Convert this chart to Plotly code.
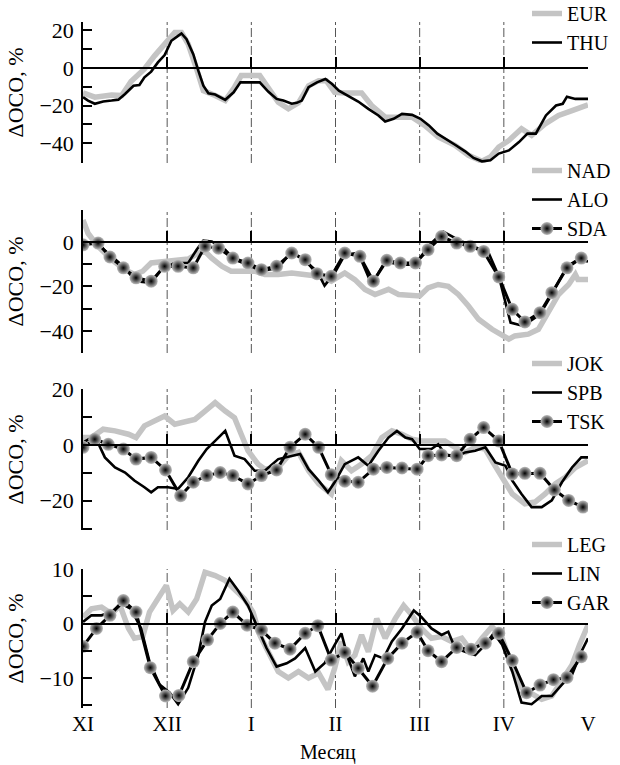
import plotly.graph_objects as go

# ---------------- data (x in months from 1 Nov; y in %) ----------------
MONTHS = ["XI", "XII", "I", "II", "III", "IV", "V"]
MONTH_POS = [0, 1, 2, 3, 4, 5, 6]

eur_x = [0, 0.14, 0.34, 0.46, 0.57, 0.73, 0.85, 0.97, 1.09, 1.17, 1.25, 1.35, 1.43, 1.57, 1.69, 1.80, 1.88, 2.10, 2.22, 2.32,
         2.44, 2.56, 2.68, 2.80, 2.89, 2.99, 3.11, 3.31, 3.43, 3.59, 3.75, 3.91, 4.06, 4.22, 4.42, 4.58, 4.74, 4.84, 4.94, 5.06,
         5.21, 5.33, 5.49, 5.65, 5.81, 6.00]
eur_y = [-13.2, -15.5, -14.3, -14.6, -7.2, -0.5, 6.5, 12.7, 18.9, 18.9, 12.7, -0.5, -12.0, -14.6, -17.3, -10.2, -4.0, -4.0, -12.0, -18.2,
         -21.7, -18.5, -9.4, -6.7, -6.7, -12.9, -13.2, -13.2, -19.9, -26.1, -26.1, -26.1, -30.5, -36.7, -41.1, -46.4, -49.6, -47.3, -42.0, -38.5,
         -32.3, -35.8, -29.7, -25.2, -22.6, -19.6]

thu_x = [0, 0.06, 0.14, 0.24, 0.34, 0.42, 0.50, 0.60, 0.67, 0.73, 0.81, 0.89, 0.97, 1.05, 1.13, 1.17, 1.23, 1.31, 1.37, 1.43,
         1.49, 1.57, 1.69, 1.79, 1.87, 2.00, 2.10, 2.20, 2.30, 2.38, 2.48, 2.54, 2.60, 2.68, 2.78, 2.88, 2.96, 3.04, 3.15, 3.27,
         3.39, 3.51, 3.59, 3.69, 3.79, 3.91, 4.01, 4.11, 4.21, 4.31, 4.42, 4.54, 4.64, 4.74, 4.84, 4.94, 5.06, 5.18, 5.28, 5.38,
         5.50, 5.62, 5.70, 5.75, 5.85, 6.00]
thu_y = [-15.5, -17.3, -19.0, -17.8, -17.3, -16.8, -13.8, -9.4, -9.0, -4.9, -1.9, 3.0, 6.9, 14.5, 17.1, 18.4, 15.4, 7.4, -1.4, -9.4,
         -13.4, -14.1, -16.9, -12.9, -7.6, -7.6, -7.6, -12.5, -16.4, -17.3, -19.0, -18.5, -17.3, -10.2, -7.6, -5.8, -8.5, -12.0, -14.6, -17.8,
         -21.7, -25.2, -28.4, -27.0, -24.4, -24.9, -27.0, -30.5, -34.9, -37.9, -40.8, -44.3, -47.8, -49.6, -49.0, -45.5, -43.8, -39.4, -34.9, -34.9,
         -25.2, -19.9, -19.0, -15.2, -16.4, -16.4]

nad_x = [0, 0.06, 0.18, 0.34, 0.50, 0.61, 0.71, 0.81, 0.97, 1.13, 1.25, 1.37, 1.45, 1.53, 1.65, 1.76, 1.92, 2.04, 2.16, 2.32,
         2.48, 2.64, 2.80, 2.95, 3.11, 3.23, 3.35, 3.47, 3.63, 3.75, 3.91, 4.00, 4.10, 4.22, 4.34, 4.46, 4.58, 4.70, 4.86, 4.98,
         5.06, 5.13, 5.29, 5.41, 5.53, 5.65, 5.77, 5.85, 5.88, 6.00]
nad_y = [10.0, 4.0, -1.9, -7.9, -12.4, -14.6, -13.1, -9.4, -8.7, -7.9, -7.6, -4.9, -4.2, -7.2, -10.9, -13.1, -13.1, -13.1, -14.6, -14.6,
         -13.9, -14.6, -15.4, -17.6, -13.9, -16.9, -21.3, -23.6, -21.3, -23.6, -24.3, -24.3, -20.6, -19.1, -19.9, -23.6, -28.8, -34.8, -39.3, -42.3,
         -43.7, -42.3, -41.5, -39.3, -31.8, -23.6, -19.1, -14.6, -16.9, -16.9]

alo_x = [0, 0.18, 0.32, 0.48, 0.63, 0.81, 0.93, 1.09, 1.25, 1.35, 1.43, 1.53, 1.69, 1.80, 1.96, 2.12, 2.32, 2.48, 2.64, 2.78,
         2.87, 2.99, 3.11, 3.27, 3.43, 3.59, 3.77, 3.95, 4.10, 4.28, 4.46, 4.60, 4.82, 4.94, 5.08, 5.23, 5.43, 5.57, 5.75, 5.88, 6.00]
alo_y = [0.3, -1.2, -5.7, -10.9, -17.6, -18.4, -12.4, -9.4, -9.4, -3.4, 0.7, 0.3, -3.4, -7.9, -10.2, -13.1, -11.6, -4.2, -8.7, -13.1,
         -19.6, -13.9, -5.7, -4.9, -19.1, -8.7, -10.2, -10.2, -1.9, 4.8, 1.0, -1.2, -4.9, -15.4, -36.3, -37.8, -32.6, -23.6, -10.9, -7.9, -8.7]

sda_x = [0, 0.18, 0.32, 0.48, 0.63, 0.81, 0.97, 1.13, 1.31, 1.45, 1.61, 1.78, 1.96, 2.12, 2.30, 2.48, 2.64, 2.78, 2.95, 3.11,
         3.29, 3.45, 3.61, 3.77, 3.95, 4.10, 4.26, 4.44, 4.60, 4.76, 4.94, 5.10, 5.25, 5.43, 5.57, 5.75, 5.92]
sda_y = [-1.2, -0.4, -6.7, -11.6, -16.1, -17.6, -10.9, -10.9, -11.6, -1.9, -2.7, -7.2, -9.4, -12.4, -10.9, -4.9, -7.9, -14.2, -15.4, -4.9,
         -6.4, -17.6, -8.2, -9.4, -9.4, -3.4, 2.5, -0.4, -1.9, -4.2, -15.7, -30.3, -36.0, -31.8, -22.8, -11.6, -7.2]

jok_x = [0, 0.10, 0.24, 0.38, 0.54, 0.63, 0.73, 0.85, 0.97, 1.09, 1.21, 1.33, 1.45, 1.57, 1.69, 1.80, 1.88, 1.96, 2.08, 2.16,
         2.32, 2.44, 2.56, 2.68, 2.80, 2.95, 3.07, 3.19, 3.31, 3.43, 3.55, 3.67, 3.79, 3.91, 4.02, 4.14, 4.30, 4.42, 4.54, 4.66,
         4.78, 4.86, 4.98, 5.10, 5.25, 5.37, 5.49, 5.61, 5.73, 5.85, 6.00]
jok_y = [2.6, 2.6, 5.6, 5.0, 3.8, 2.6, 6.8, 8.5, 10.3, 7.4, 8.0, 9.1, 12.1, 15.1, 12.1, 9.7, 3.8, -2.1, -6.9, -8.7,
         -8.1, -3.9, -2.7, -9.3, -14.0, -17.6, -5.7, -9.3, -6.9, -3.9, 2.6, 5.0, 3.8, 2.0, 1.4, 1.4, 1.4, -0.9, -2.7, -0.9,
         -1.5, -5.7, -11.6, -17.6, -21.1, -20.5, -17.6, -14.0, -11.6, -8.1, -5.7]

spb_x = [0, 0.14, 0.26, 0.38, 0.50, 0.61, 0.73, 0.81, 0.89, 1.01, 1.13, 1.25, 1.37, 1.47, 1.57, 1.69, 1.80, 1.92, 2.04, 2.16,
         2.32, 2.48, 2.58, 2.68, 2.80, 2.91, 2.99, 3.11, 3.27, 3.39, 3.51, 3.63, 3.73, 3.83, 3.91, 4.00, 4.14, 4.22, 4.30, 4.42,
         4.54, 4.66, 4.78, 4.90, 5.02, 5.10, 5.21, 5.33, 5.45, 5.57, 5.69, 5.81, 5.92, 6.00]
spb_y = [0.8, 3.2, -4.5, -8.1, -9.9, -12.8, -15.2, -17.0, -15.2, -15.2, -15.8, -11.6, -5.7, -1.5, 1.4, 5.0, -3.9, -5.1, -9.3, -9.3,
         -5.1, -3.9, -3.3, -8.7, -12.8, -17.0, -13.4, -6.9, -4.5, -7.5, -2.1, 2.6, 5.0, 2.6, 2.0, -1.5, -1.5, 0.2, -3.3, -4.5,
         -2.7, -2.1, -0.9, -6.3, -7.5, -12.8, -17.6, -22.3, -22.3, -19.9, -13.4, -8.1, -4.5, -4.5]

tsk_x = [0, 0.14, 0.30, 0.48, 0.63, 0.81, 0.98, 1.16, 1.31, 1.47, 1.63, 1.78, 1.96, 2.12, 2.30, 2.46, 2.64, 2.80, 2.95, 3.11,
         3.27, 3.45, 3.61, 3.79, 3.97, 4.10, 4.26, 4.44, 4.60, 4.76, 4.94, 5.10, 5.25, 5.43, 5.60, 5.77, 5.94]
tsk_y = [-0.9, 2.0, 0.2, -1.5, -5.1, -4.5, -9.0, -18.2, -13.4, -11.0, -9.9, -11.0, -14.0, -11.0, -9.0, -0.9, 3.8, -0.9, -10.7, -13.0,
         -13.4, -8.7, -8.1, -8.3, -8.7, -3.9, -3.6, -3.9, 2.0, 6.2, 1.4, -10.4, -10.2, -10.2, -16.1, -19.9, -22.3]

leg_x = [0, 0.10, 0.22, 0.34, 0.44, 0.54, 0.61, 0.71, 0.79, 0.89, 0.99, 1.07, 1.15, 1.25, 1.35, 1.45, 1.57, 1.69, 1.80, 1.92,
         2.02, 2.10, 2.20, 2.32, 2.44, 2.56, 2.68, 2.80, 2.91, 2.99, 3.07, 3.15, 3.23, 3.31, 3.39, 3.49, 3.59, 3.71, 3.81, 3.91,
         4.02, 4.14, 4.26, 4.38, 4.50, 4.62, 4.74, 4.86, 4.98, 5.10, 5.21, 5.33, 5.45, 5.57, 5.69, 5.81, 5.90, 6.00]
leg_y = [1.2, 2.7, 3.0, 1.8, 3.3, -0.9, -2.7, -2.4, 2.1, 4.5, 7.0, 2.4, 3.6, 2.1, 4.5, 9.4, 8.8, 7.9, 6.4, 4.5,
         2.1, -2.1, -5.2, -8.8, -10.0, -8.8, -10.0, -9.1, -12.1, -8.2, -3.3, -7.0, -5.8, -2.1, -5.2, 0.9, -2.7, 0.9, 3.3, 1.5,
         -0.9, -2.7, -2.4, -3.3, -2.7, -5.2, -2.7, -0.6, -2.7, -8.2, -11.8, -13.0, -13.9, -13.3, -10.6, -7.6, -3.9, -0.3]

lin_x = [0, 0.10, 0.22, 0.34, 0.46, 0.57, 0.69, 0.79, 0.91, 1.03, 1.13, 1.25, 1.37, 1.45, 1.53, 1.63, 1.74, 1.84, 1.96, 2.08,
         2.18, 2.30, 2.42, 2.52, 2.64, 2.76, 2.87, 2.99, 3.07, 3.15, 3.23, 3.33, 3.39, 3.47, 3.57, 3.67, 3.79, 3.93, 4.02, 4.14,
         4.26, 4.34, 4.42, 4.54, 4.66, 4.78, 4.88, 4.98, 5.10, 5.21, 5.33, 5.45, 5.57, 5.69, 5.81, 5.92, 6.00]
lin_y = [0.3, 1.5, 1.5, 2.1, 3.6, 2.7, -0.9, -7.0, -11.2, -12.7, -14.8, -11.8, -5.8, 0.3, 3.3, 4.5, 8.2, 6.1, 3.3, -0.9,
         -4.5, -7.9, -7.3, -6.4, -4.5, -8.8, -7.3, -3.9, -1.8, -6.4, -9.7, -6.4, -8.8, -5.8, -6.4, -3.3, -0.9, 2.4, 1.2, -0.9,
         -2.1, -1.5, -4.5, -5.2, -5.8, -3.9, -1.8, -3.9, -8.8, -14.5, -14.8, -13.3, -13.3, -11.2, -9.4, -5.2, -2.7]

gar_x = [0, 0.16, 0.32, 0.48, 0.63, 0.80, 0.98, 1.14, 1.31, 1.48, 1.63, 1.78, 1.95, 2.12, 2.28, 2.46, 2.64, 2.79, 2.95, 3.11,
         3.27, 3.44, 3.62, 3.79, 3.97, 4.10, 4.26, 4.44, 4.61, 4.78, 4.94, 5.10, 5.27, 5.43, 5.59, 5.75, 5.92]
gar_y = [-4.2, -0.9, 1.5, 4.2, 2.1, -8.1, -13.3, -13.2, -7.0, -3.0, 0.0, 2.1, -0.3, -1.2, -3.6, -4.7, -1.8, -0.4, -6.7, -5.3,
         -8.2, -11.5, -6.4, -3.6, -1.6, -5.0, -7.0, -4.4, -4.7, -3.6, -1.8, -6.8, -12.7, -11.3, -10.3, -9.9, -6.1]

# ---------------- styling / layout ----------------
FONT = "Liberation Serif, Times New Roman, Times, serif"
GRAY = "#c4c4c4"
W, H = 620, 765
X_DOM = [83 / W, 588 / W]
FS = 22

panels = [
    dict(series=[("EUR", eur_x, eur_y, "gray"), ("THU", thu_x, thu_y, "black")],
         rng=[-50.5, 24.5], px=(22, 163), ticks=[-50, -40, -30, -20, -10, 0, 10, 20], labels=[20, 0, -20, -40], leg_top=-6),
    dict(series=[("NAD", nad_x, nad_y, "gray"), ("ALO", alo_x, alo_y, "black"), ("SDA", sda_x, sda_y, "marker")],
         rng=[-50, 14.5], px=(210, 353), ticks=[-50, -40, -30, -20, -10, 0], labels=[0, -20, -40], leg_top=151),
    dict(series=[("JOK", jok_x, jok_y, "gray"), ("SPB", spb_x, spb_y, "black"), ("TSK", tsk_x, tsk_y, "marker")],
         rng=[-30.5, 20], px=(389, 530), ticks=[-30, -20, -10, 0, 10, 20], labels=[20, 0, -20], leg_top=344),
    dict(series=[("LEG", leg_x, leg_y, "gray"), ("LIN", lin_x, lin_y, "black"), ("GAR", gar_x, gar_y, "marker")],
         rng=[-15.5, 10], px=(569, 708), ticks=[-15, -10, -5, 0, 5, 10], labels=[10, 0, -10], leg_top=525),
]


def fmt(v):
    return ("\u2212" + str(abs(v))) if v < 0 else str(v)


fig = go.Figure()
layout = dict(
    width=W, height=H, margin=dict(l=0, r=0, t=0, b=0, autoexpand=False),
    paper_bgcolor="white", plot_bgcolor="white",
    font=dict(family=FONT, size=FS, color="black"),
    shapes=[], annotations=[],
)

for i, p in enumerate(panels, start=1):
    sfx = "" if i == 1 else str(i)
    xa, ya = "x" + sfx, "y" + sfx
    legname = "legend" + sfx
    for name, xs, ys, kind in p["series"]:
        if kind == "gray":
            tr = go.Scatter(x=xs, y=ys, mode="lines", name=name,
                            line=dict(color=GRAY, width=5.5, dash="solid"))
        elif kind == "black":
            tr = go.Scatter(x=xs, y=ys, mode="lines", name=name,
                            line=dict(color="black", width=2.6, dash="solid"))
        else:
            tr = go.Scatter(x=xs, y=ys, mode="lines+markers", name=name,
                            line=dict(color="black", width=3, dash="solid"),
                            marker=dict(size=13, color="#bdbdbd", line=dict(width=0),
                                        gradient=dict(type="radial", color="#000000")))
        tr.update(xaxis=xa, yaxis=ya, legend=legname, hoverinfo="skip")
        fig.add_trace(tr)

    y0p, y1p = p["px"]
    dom = [1 - y1p / H, 1 - y0p / H]
    r0, r1 = p["rng"]
    zero_pos = dom[0] + (0 - r0) / (r1 - r0) * (dom[1] - dom[0])

    layout["xaxis" + sfx] = dict(
        domain=X_DOM, range=[0, 6], anchor="free", position=zero_pos,
        showline=True, linecolor="black", linewidth=1.5,
        ticks="inside", ticklen=10, tickwidth=1.5, tickcolor="black",
        tickvals=MONTH_POS, showticklabels=False, automargin=True,
        showgrid=False, zeroline=False, fixedrange=True,
    )
    layout["yaxis" + sfx] = dict(
        domain=dom, range=p["rng"], anchor=xa,
        showline=True, linecolor="black", linewidth=1.5,
        ticks="inside", ticklen=9, tickwidth=1.5, tickcolor="black",
        tickvals=p["ticks"],
        ticktext=[fmt(v) if v in p["labels"] else "" for v in p["ticks"]],
        ticklabelstandoff=3, automargin=True,
        showgrid=False, zeroline=False,
        title=dict(text="\u0394OCO, %", standoff=10, font=dict(size=FS)),
    )
    layout[legname] = dict(
        x=527 / W, xanchor="left", y=1 - p["leg_top"] / H, yanchor="top",
        bgcolor="rgba(0,0,0,0)", borderwidth=0,
        font=dict(family=FONT, size=20, color="black"),
        tracegroupgap=0,
    )
    for m in MONTH_POS[1:-1]:
        layout["shapes"].append(dict(
            type="line", xref=xa, yref=ya + " domain", x0=m, x1=m, y0=0, y1=1,
            line=dict(color="#555555", width=1, dash="dashdot"), layer="below"))

# month labels under the bottom panel
layout["xaxis5"] = dict(
    domain=X_DOM, range=[0, 6], overlaying="x4", anchor="y4", side="bottom",
    showline=False, ticks="", tickvals=MONTH_POS, ticktext=MONTHS,
    tickfont=dict(family=FONT, size=21),
    ticklabelstandoff=1, showgrid=False, zeroline=False, automargin=True,
)
fig.add_trace(go.Scatter(x=[], y=[], xaxis="x5", yaxis="y4", showlegend=False, hoverinfo="skip"))

# x-axis caption below the month labels
layout["annotations"].append(dict(
    text="Месяц", xref="paper", yref="paper", x=328 / W, y=0.0,
    xanchor="center", yanchor="bottom", showarrow=False, borderpad=0,
    font=dict(family=FONT, size=20)))

fig.update_layout(**layout)
fig.write_html("out.html")
